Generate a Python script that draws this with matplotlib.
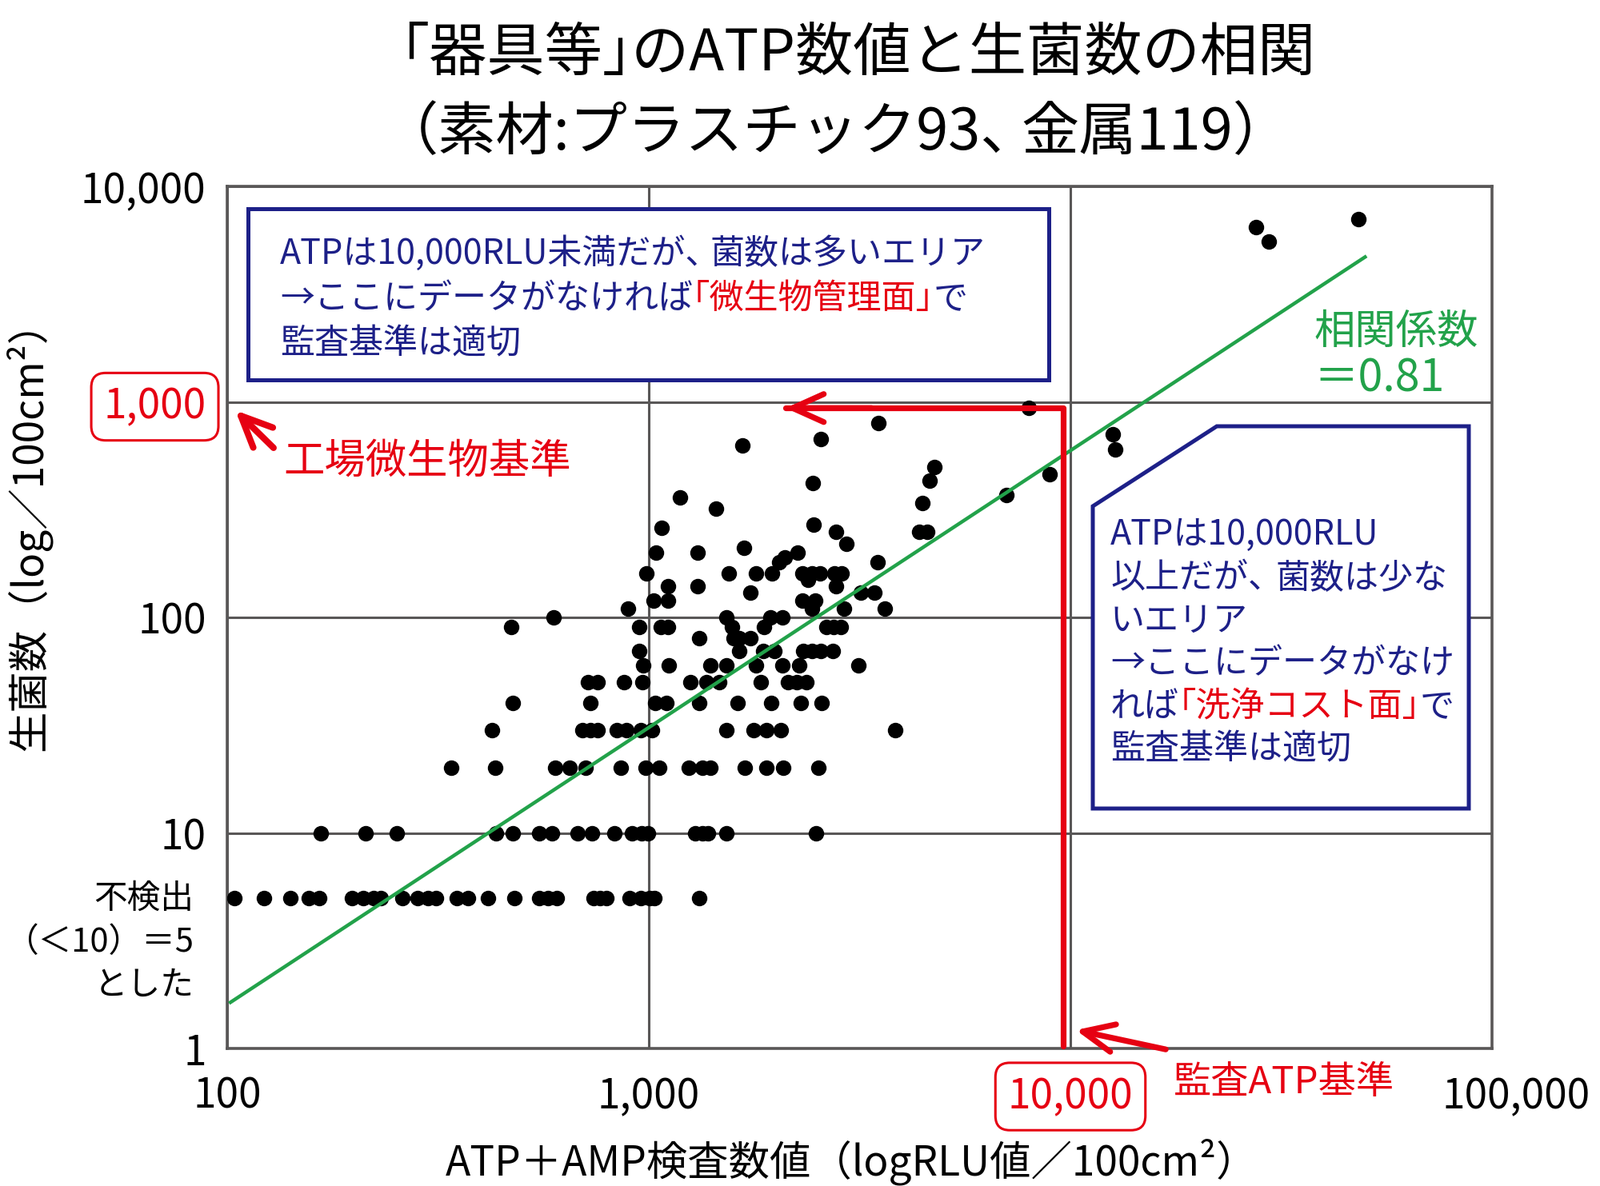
import matplotlib
matplotlib.use('Agg')
import matplotlib.pyplot as plt
from matplotlib.patches import Rectangle, Polygon
from matplotlib.transforms import offset_copy, ScaledTranslation
from matplotlib.ticker import NullLocator
import numpy as np

plt.rcParams['font.family'] = ['Noto Sans CJK JP', 'DejaVu Sans']

# ---------------- data ----------------
# ATP+AMP (RLU/100cm2) and viable count (CFU/100cm2); "not detected" plotted as 5
atp_rlu = [
    # count 5
    104, 122, 141, 156, 165, 198, 210, 222, 231, 260, 283, 299, 313, 350, 372,
    415, 479, 549, 576, 604, 739, 765, 793, 899, 957, 1003, 1030, 1318,
    # count 10
    167, 213, 253, 435, 476, 549, 590, 677, 733, 828, 912, 960, 995, 1288,
    1339, 1381, 1528, 2495,
    # count 20
    340, 433, 599, 648, 709, 857, 984, 1059, 1244, 1340, 1403, 1692, 1902,
    2081, 2528,
    # count 30
    425, 695, 728, 757, 838, 885, 957, 1019, 1528, 1771, 1902, 2055, 3837,
    # count 40
    476, 728, 1034, 1101, 1318, 1626, 1954, 2292, 2575,
    # count 50
    716, 757, 875, 964, 1257, 1371, 1469, 1841, 2136, 2240, 2364,
    # count 60
    968, 1117, 1403, 1528, 1799, 2070, 2274, 3140,
    # count 70
    948, 1640, 1871, 1990, 2327, 2438, 2556, 2731,
    # count 80
    1318, 1589, 1640, 1745,
    # count 90
    472, 948, 1066, 1109, 1577, 1872, 2636, 2741, 2851,
    # count 100-150
    594, 1528, 1944, 2070, 891, 2438, 2905, 3623, 1026, 1109, 2310, 2477,
    1738, 3178, 3426, 1109, 1308, 2774, 2383,
    # count 160-270
    986, 1548, 1792, 1960, 2310, 2438, 2546, 2761, 2871, 2037, 3491, 2104,
    1042, 1308, 2256, 1683, 2938, 2774, 4375, 4583, 1074, 2461,
    # count 300+
    1443, 4449, 1186, 7049, 2449, 4634, 8930, 4765, 12770, 1670, 2556,
    12590, 3508, 7980, 29600, 27560, 48150,
]
viable_count = (
    [5] * 28 + [10] * 18 + [20] * 15 + [30] * 13 + [40] * 9 + [50] * 11 +
    [60] * 8 + [70] * 8 + [80] * 4 + [90] * 9 +
    [100, 100, 100, 100, 110, 110, 110, 110, 120, 120, 120, 120,
     130, 130, 130, 140, 140, 140, 150] +
    [160, 160, 160, 160, 160, 160, 160, 160, 160, 180, 180, 190,
     200, 200, 200, 210, 220, 250, 250, 250, 260, 270] +
    [320, 340, 360, 370, 420, 430, 460, 500, 600, 630, 675,
     710, 800, 940, 5560, 6450, 7040]
)

# regression line (log10 y = a + b log10 x)
trend_slope = 1.285
trend_intercept = -2.366
trend_x = [101, 50400]
correlation = 0.81

x_ticks = [100, 1000, 10000, 100000]
x_tick_labels = ['100', '1,000', '10,000', '100,000']
y_ticks = [1, 10, 100, 1000, 10000]
y_tick_labels = ['1', '10', '100', '1,000', '10,000']

# reference criteria lines (as drawn)
audit_line_x = 9620      # 監査ATP基準 10,000 RLU
micro_line_y = 936       # 工場微生物基準 1,000
micro_arrow_tip_x = 2111

# ---------------- style ----------------
W, H = 2000, 1483
NAVY = '#1d2088'
RED = '#e60012'
GREEN = '#22a24a'
GRAY = '#595757'

fig = plt.figure(figsize=(W / 100, H / 100), dpi=100)


def fx(px):
    return px / W


def fy(py):
    return 1 - py / H


ax = fig.add_axes([fx(284), fy(1311), (1865 - 284) / W, (1311 - 233) / H])
ax.set_xscale('log')
ax.set_yscale('log')
ax.set_xlim(100, 100000)
ax.set_ylim(1, 10000)
ax.xaxis.set_minor_locator(NullLocator())
ax.yaxis.set_minor_locator(NullLocator())
ax.set_xticks(x_ticks, x_tick_labels)
ax.set_yticks(y_ticks, y_tick_labels)
ax.tick_params(axis='both', length=0, labelsize=37)
ax.tick_params(axis='x', pad=24)
ax.tick_params(axis='y', pad=19)
ax.grid(True, which='major', color=GRAY, lw=2.2)
ax.set_axisbelow(True)
for sp in ax.spines.values():
    sp.set_color(GRAY)
    sp.set_linewidth(2.6)

box_style = dict(boxstyle='round,pad=0.3,rounding_size=0.35',
                 fc='white', ec=RED, lw=2.2)
for lbl in ax.get_yticklabels():
    if lbl.get_text() == '1,000':
        lbl.set_color(RED)
        lbl.set_bbox(box_style)
for lbl in ax.get_xticklabels():
    if lbl.get_text() == '10,000':
        lbl.set_color(RED)
        lbl.set_bbox(box_style)
last_tick = ax.xaxis.get_major_ticks()[-1].label1
last_tick.set_transform(last_tick.get_transform() +
                        ScaledTranslation(0.3, 0, fig.dpi_scale_trans))

# scatter
ax.scatter(atp_rlu, viable_count, s=196, c='black', linewidths=0, zorder=3)

# trend line
tx = np.array(trend_x, dtype=float)
ty = 10 ** (trend_intercept + trend_slope * np.log10(tx))
ax.plot(tx, ty, color=GREEN, lw=3.2, zorder=4, solid_capstyle='butt')

# red criteria path
ax.plot([audit_line_x, audit_line_x, micro_arrow_tip_x],
        [1.03, micro_line_y, micro_line_y],
        color=RED, lw=5.2, zorder=5, solid_joinstyle='round',
        solid_capstyle='round', clip_on=False)
arrow_kw = dict(arrowstyle='->,head_length=1.4,head_width=0.63', color=RED,
                lw=5.2, mutation_scale=20, shrinkA=0, shrinkB=0,
                capstyle='round', joinstyle='round')
ax.annotate('', xy=(micro_arrow_tip_x, micro_line_y),
            xytext=(micro_arrow_tip_x * 1.6, micro_line_y),
            arrowprops=arrow_kw, zorder=5)
# arrow to y=1,000 label
ax.annotate('', xy=(104.5, 914), xytext=(128.8, 612),
            arrowprops=dict(arrow_kw, lw=5.8), zorder=5,
            annotation_clip=False)
# arrow to x=10,000 label
ax.annotate('', xy=(10300, 1.217), xytext=(16830, 0.99),
            arrowprops=arrow_kw, zorder=5, annotation_clip=False)

# ---------------- texts ----------------
renderer = fig.canvas.get_renderer()


def rich(x_px, base_px, parts, size, **kw):
    """parts: (text, color, shift_in_em) laid out left to right on a baseline."""
    off = 0.0
    em = size * fig.dpi / 72.0
    for s, c, dx in parts:
        off += dx * em
        tr = offset_copy(fig.transFigure, x=off, y=0, units='dots')
        t = fig.text(fx(x_px), fy(base_px), s, color=c, fontsize=size,
                     va='baseline', ha='left', transform=tr, zorder=3, **kw)
        off += t.get_window_extent(renderer).width


# title
rich(500, 88, [('｢器具等｣のATP数値と生菌数の相関', 'black', 0)], 52)
rich(476, 187, [('（素材:プラスチック93、', 'black', 0), ('金属119）', 'black', -0.3)], 52)

# axis labels
fig.text(fx(35), fy(657), '生菌数（log／100cm²）', fontsize=37, rotation=90,
         va='center', ha='center')
fig.text(fx(1065), fy(1453), 'ATP＋AMP検査数値（logRLU値／100cm²）', fontsize=37,
         va='center', ha='center')

# not-detected note
for txt, base in [('不検出', 1136), ('（＜10）＝5', 1190), ('とした', 1244)]:
    fig.text(fx(242), fy(base), txt, fontsize=30, va='baseline', ha='right')

# red annotations
fig.text(fx(354), fy(592), '工場微生物基準', fontsize=37, color=RED,
         va='baseline', ha='left')
fig.text(fx(1467), fy(1367), '監査ATP基準', fontsize=34, color=RED,
         va='baseline', ha='left')

# correlation
fig.text(fx(1642), fy(430), '相関係数', fontsize=37, color=GREEN,
         va='baseline', ha='left')
fig.text(fx(1642), fy(490), f'＝{correlation:.2f}', fontsize=40, color=GREEN,
         va='baseline', ha='left')

# upper-left box
box1 = Rectangle((fx(310), fy(475)), (1311 - 310) / W, (475 - 261) / H,
                 transform=fig.transFigure, fc='white', ec=NAVY, lw=3.6,
                 zorder=2)
fig.add_artist(box1)
rich(350, 330, [('ATPは10,000RLU未満だが、', NAVY, 0), ('菌数は多いエリア', NAVY, -0.3)], 31)
rich(350, 386, [('→ここにデータがなければ', NAVY, 0), ('｢微生物管理面｣', RED, 0),
                ('で', NAVY, 0)], 31)
rich(350, 442, [('監査基準は適切', NAVY, 0)], 31)

# right box (cut corner)
pts = [(1366, 633), (1521, 533), (1836, 533), (1836, 1011), (1366, 1011)]
box2 = Polygon([(fx(x), fy(y)) for x, y in pts], closed=True,
               transform=fig.transFigure, fc='white', ec=NAVY, lw=3.6,
               zorder=2, joinstyle='miter')
fig.add_artist(box2)
rich(1388, 681, [('ATPは10,000RLU', NAVY, 0)], 31)
rich(1388, 735, [('以上だが、', NAVY, 0), ('菌数は少な', NAVY, -0.2)], 31)
rich(1388, 789, [('いエリア', NAVY, 0)], 31)
rich(1388, 842, [('→ここにデータがなけ', NAVY, 0)], 31)
rich(1388, 896, [('れば', NAVY, 0), ('｢洗浄コスト面｣', RED, 0), ('で', NAVY, 0)], 31)
rich(1388, 949, [('監査基準は適切', NAVY, 0)], 31)

fig.savefig('out.png', dpi=100, facecolor='white')
